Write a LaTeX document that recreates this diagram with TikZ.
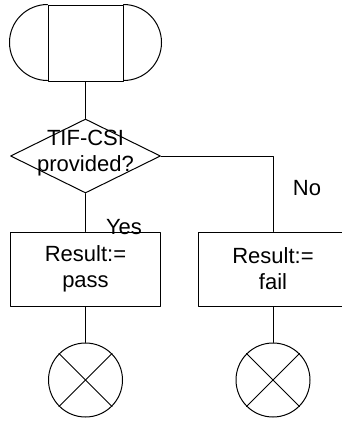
\documentclass[tikz,border=0pt]{standalone}
\usepackage{fontspec}
\setmainfont{Liberation Sans}
\usetikzlibrary{shapes.geometric,positioning}
\begin{document}
\begin{tikzpicture}[x=1pt,y=-1pt,line cap=round,line join=round,line width=1pt,font=\fontsize{22}{26}\selectfont]
	\tikzset{resbox/.style={draw,minimum width=150pt,minimum height=74pt,inner sep=0pt,align=center},
		stopper/.style={draw,circle,minimum size=74pt,inner sep=0pt}}
	\useasboundingbox (0,0) rectangle (342,421);
	% start terminal
	\node[draw,minimum width=75pt,minimum height=76pt] (start) at (85.5,43) {};
	\draw (start.north west) arc[start angle=90,end angle=270,radius=38pt];
	\draw (start.north east) arc[start angle=90,end angle=-90,radius=38pt];
	% decision
	\node[diamond,draw,minimum width=150pt,minimum height=74pt,inner sep=0pt] (test) at (85.5,156) {};
	\node[align=center,inner sep=0pt] (testtxt) at (85.5,153.5) {TIF-CSI\\provided?};
	\node[resbox] (pass) at (85.5,269) {Result:=\\pass};
	\node[resbox] (fail) at (273,269) {Result:=\\fail};
	\node[stopper] (endpass) at (85.5,380) {};
	\node[stopper] (endfail) at (273,380) {};
	\foreach \n in {endpass,endfail}{\draw (\n.north west) -- (\n.south east);\draw (\n.north east) -- (\n.south west);}
	\draw (start) -- (test);
	\draw (test) -- (pass);
	\draw (test.east) -| (fail.north);
	\draw (pass) -- (endpass);
	\draw (fail) -- (endfail);
	\node (yes) at (124,227) {Yes};
	\node (no) at (307,188) {No};
\end{tikzpicture}
\end{document}
